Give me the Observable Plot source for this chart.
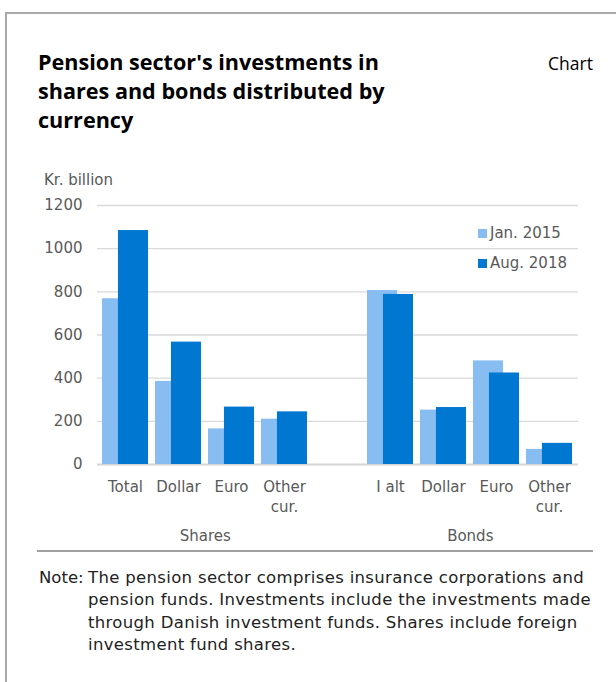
<!DOCTYPE html>
<html>
<head>
<meta charset="utf-8">
<script src="https://cdn.jsdelivr.net/npm/d3@7"></script>
<script src="https://cdn.jsdelivr.net/npm/@observablehq/plot@0.6"></script>
<style>
  html, body { margin: 0; padding: 0; background: #fff; }
  #page { position: relative; width: 616px; height: 682px; overflow: hidden; }
  .abs { position: absolute; white-space: nowrap; }
  #frame { left: 5px; top: 12px; width: 640px; height: 700px; border-left: 2px solid #a9a9a9; border-top: 2px solid #a9a9a9; }
  #title { left: 38px; top: 47px; font: bold 21.6px "Open Sans", sans-serif; line-height: 29px; color: #000; }
  #chartlbl { left: 548px; top: 51px; font: 17.5px "Open Sans", sans-serif; color: #000; }
  #unit { left: 44px; top: 171px; font: 15px "DejaVu Sans", sans-serif; line-height: 18px; color: #595959; }
  #plot { left: 0; top: 160px; }
  .legrow { font: 15px "DejaVu Sans", sans-serif; line-height: 18px; color: #595959; }
  .sw { width: 9px; height: 9px; }
  #sep { left: 37px; top: 550px; width: 556px; height: 2px; background: #a0a0a0; }
  .note { font: 16.5px "DejaVu Sans", sans-serif; letter-spacing: 0.33px; line-height: 22.4px; color: #222; }
</style>
</head>
<body>
<div id="page">
  <div id="frame" class="abs"></div>
  <div id="title" class="abs">Pension sector's investments in<br>shares and bonds distributed by<br>currency</div>
  <div id="chartlbl" class="abs">Chart</div>
  <div id="unit" class="abs">Kr. billion</div>
  <div id="plot" class="abs"></div>
  <div id="legend"></div>
  <div id="sep" class="abs"></div>
  <div class="abs note" style="left:39px; top:567px; letter-spacing:0;">Note:</div>
  <div class="abs note" style="left:88px; top:567px;">The pension sector comprises insurance corporations and<br>pension funds. Investments include the investments made<br>through Danish investment funds. Shares include foreign<br>investment fund shares.</div>
</div>
<script>
// ---- data ----
const groups = ["Shares", "Bonds"];
const shareCats = ["Total", "Dollar", "Euro", "Other\ncur."];
const bondCats = ["I alt", "Dollar", "Euro", "Other\ncur."];
const seriesNames = ["Jan. 2015", "Aug. 2018"];
const seriesColors = ["#88bdf2", "#0078d2"];
const sharesJan2015 = [768, 385, 165, 210];
const sharesAug2018 = [1084, 567, 266, 244];
const bondsJan2015 = [806, 252, 480, 70];
const bondsAug2018 = [788, 264, 424, 98];
const yTicks = [0, 200, 400, 600, 800, 1000, 1200];

// ---- build table ----
const rows = [];
shareCats.forEach((c, i) => rows.push({key: "Shares|" + c, label: c, jan: sharesJan2015[i], aug: sharesAug2018[i]}));
bondCats.forEach((c, i) => rows.push({key: "Bonds|" + c, label: c, jan: bondsJan2015[i], aug: bondsAug2018[i]}));
const xDomain = [...shareCats.map(c => "Shares|" + c), "gap", ...bondCats.map(c => "Bonds|" + c)];
const labelOf = new Map(rows.map(r => [r.key, r.label]));

const W = 616, H = 400, mL = 97, mR = 38, mT = 45, mB = 96;
const xOpts = {type: "band", domain: xDomain, paddingInner: 0.125, paddingOuter: 0.05, align: 0.5};
const xs = Plot.scale({x: {...xOpts, range: [mL, W - mR]}});
const step = xs.step;
const bw = xs.bandwidth;
const overlap = bw * 0.34;

const groupLabels = [
  {g: groups[0], key: "Shares|" + shareCats[1]},
  {g: groups[1], key: "Bonds|" + bondCats[1]}
];

const chart = Plot.plot({
  width: W, height: H,
  marginLeft: mL, marginRight: mR, marginTop: mT, marginBottom: mB,
  style: {fontFamily: "DejaVu Sans, sans-serif", fontSize: "15px", color: "#595959", background: "transparent", overflow: "visible"},
  x: {...xOpts, axis: null},
  y: {domain: [0, 1200], axis: null},
  marks: [
    Plot.gridY(yTicks.slice(1), {stroke: "#d9d9d9", strokeOpacity: 1, strokeWidth: 1.3}),
    Plot.ruleY([0], {stroke: "#d4d4d4", strokeWidth: 2}),
    Plot.barY(rows, {x: "key", y: "jan", fill: seriesColors[0], insetRight: overlap}),
    Plot.barY(rows, {x: "key", y: "aug", fill: seriesColors[1], insetLeft: overlap}),
    Plot.axisY({ticks: yTicks, tickSize: 0, tickPadding: 15, label: null, tickFormat: d => String(d), fill: "#595959"}),
    Plot.axisX({tickSize: 0, tickPadding: 14, label: null, tickFormat: k => labelOf.get(k) ?? "", lineHeight: 1.3, fill: "#595959"}),
    Plot.text(groupLabels, {x: "key", text: "g", dx: step / 2, frameAnchor: "bottom", dy: 76, fill: "#595959"})
  ]
});
document.getElementById("plot").appendChild(chart);

// legend
const leg = document.getElementById("legend");
seriesNames.forEach((name, i) => {
  const sw = document.createElement("div");
  sw.className = "abs sw";
  sw.style.left = "478px"; sw.style.top = (229 + 30 * i) + "px"; sw.style.background = seriesColors[i];
  leg.appendChild(sw);
  const t = document.createElement("div");
  t.className = "abs legrow";
  t.style.left = "490px"; t.style.top = (224 + 30 * i) + "px";
  t.textContent = name;
  leg.appendChild(t);
});
</script>
</body>
</html>
